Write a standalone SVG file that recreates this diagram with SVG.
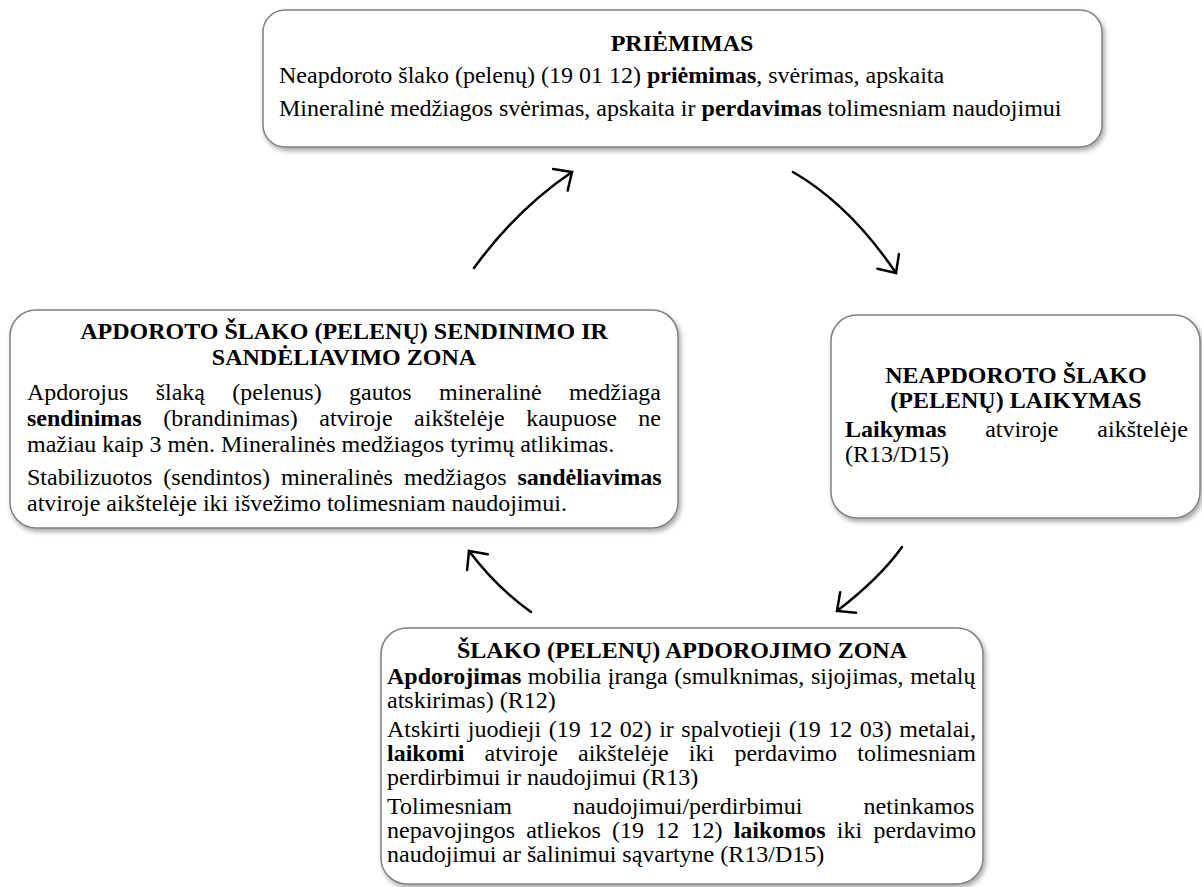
<svg xmlns="http://www.w3.org/2000/svg" width="1202" height="887" viewBox="0 0 1202 887">
<defs>
<style>
.box{fill:#fff;stroke:#808080;stroke-width:1.5;filter:url(#sh)}
.t{font-family:"Liberation Serif","Times New Roman",serif;font-size:24px;fill:#000}
.c{text-anchor:middle}
.b{font-weight:bold}
.arr{fill:none;stroke:#000;stroke-width:2.5;stroke-linecap:round;marker-end:url(#ah)}
</style>
<filter id="sh" x="-5%" y="-5%" width="115%" height="120%">
<feDropShadow dx="2" dy="3" stdDeviation="2.5" flood-color="#000" flood-opacity="0.35"/>
</filter>
<marker id="ah" viewBox="0 0 20 30" refX="18" refY="15" markerWidth="20" markerHeight="30" markerUnits="userSpaceOnUse" orient="auto" overflow="visible">
<path d="M4,2 L18,15 L4,28" fill="none" stroke="#000" stroke-width="2.5" stroke-linecap="round"/>
</marker>
</defs>
<rect width="1202" height="887" fill="#fff"/>

<g id="connectors">
<path class="arr" d="M474,268 Q517,209 572,172"/>
<path class="arr" d="M793,172 Q850,205 896,273"/>
<path class="arr" d="M902,547 Q880,578 837,611"/>
<path class="arr" d="M531,612 Q497,588 469,551"/>
</g>

<g id="priemimas">
<rect class="box" x="263" y="10" width="839" height="137" rx="22"/>
<text class="t b c" x="682" y="51">PRIĖMIMAS</text>
<text class="t" x="279" y="83">Neapdoroto šlako (pelenų) (19 01 12) <tspan class="b">priėmimas</tspan>, svėrimas, apskaita</text>
<text class="t" x="279" y="116">Mineralinė medžiagos svėrimas, apskaita ir <tspan class="b">perdavimas</tspan> tolimesniam naudojimui</text>
</g>

<g id="sendinimas">
<rect class="box" x="10" y="310" width="668" height="218" rx="26"/>
<text class="t b c" x="344" y="339">APDOROTO ŠLAKO (PELENŲ) SENDINIMO IR</text>
<text class="t b c" x="344" y="365">SANDĖLIAVIMO ZONA</text>
<text class="t" x="27" y="400" word-spacing="21.36">Apdorojus šlaką (pelenus) gautos mineralinė medžiaga</text>
<text class="t" x="27" y="426" word-spacing="15.48"><tspan class="b">sendinimas</tspan> (brandinimas) atviroje aikštelėje kaupuose ne</text>
<text class="t" x="27" y="452">mažiau kaip 3 mėn. Mineralinės medžiagos tyrimų atlikimas.</text>
<text class="t" x="27" y="485" word-spacing="4.98">Stabilizuotos (sendintos) mineralinės medžiagos <tspan class="b">sandėliavimas</tspan></text>
<text class="t" x="27" y="511">atviroje aikštelėje iki išvežimo tolimesniam naudojimui.</text>
</g>

<g id="laikymas">
<rect class="box" x="831" y="315" width="369" height="203" rx="26"/>
<text class="t b c" x="1016" y="383">NEAPDOROTO ŠLAKO</text>
<text class="t b c" x="1016" y="408">(PELENŲ) LAIKYMAS</text>
<text class="t" x="845" y="437" word-spacing="32.85"><tspan class="b">Laikymas</tspan> atviroje aikštelėje</text>
<text class="t" x="845" y="462">(R13/D15)</text>
</g>

<g id="apdorojimas">
<rect class="box" x="381" y="628" width="602" height="256" rx="26"/>
<text class="t b c" x="682" y="658">ŠLAKO (PELENŲ) APDOROJIMO ZONA</text>
<text class="t" x="387" y="684" word-spacing="0.6"><tspan class="b">Apdorojimas</tspan> mobilia įranga (smulknimas, sijojimas, metalų</text>
<text class="t" x="387" y="708">atskirimas) (R12)</text>
<text class="t" x="387" y="737" word-spacing="1.51">Atskirti juodieji (19 12 02) ir spalvotieji (19 12 03) metalai,</text>
<text class="t" x="387" y="761" word-spacing="14.2"><tspan class="b">laikomi</tspan> atviroje aikštelėje iki perdavimo tolimesniam</text>
<text class="t" x="387" y="785">perdirbimui ir naudojimui (R13)</text>
<text class="t" x="387" y="814" word-spacing="55.15">Tolimesniam naudojimui/perdirbimui netinkamos</text>
<text class="t" x="387" y="838" word-spacing="5.2">nepavojingos atliekos (19 12 12) <tspan class="b">laikomos</tspan> iki perdavimo</text>
<text class="t" x="387" y="862">naudojimui ar šalinimui sąvartyne (R13/D15)</text>
</g>
</svg>
